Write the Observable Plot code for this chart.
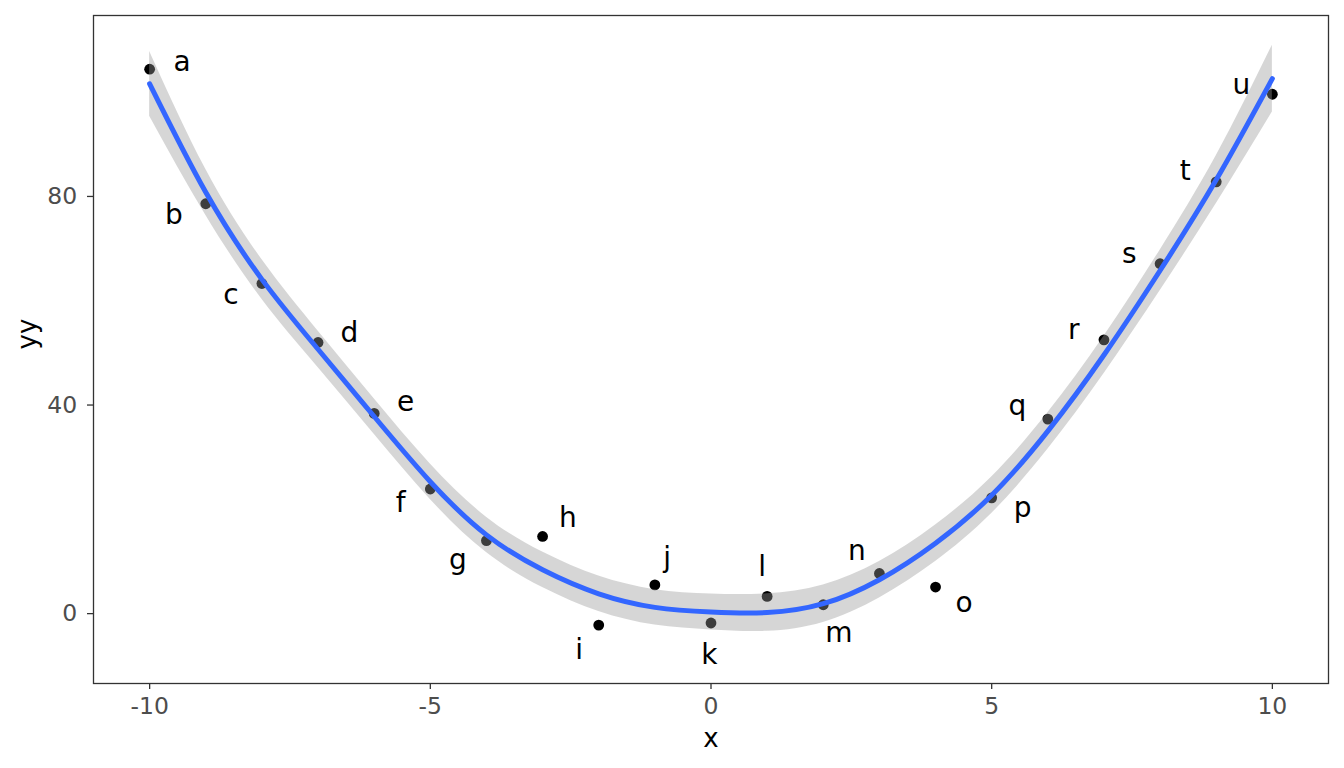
<!DOCTYPE html>
<html>
<head>
<meta charset="utf-8">
<script src="https://cdn.jsdelivr.net/npm/d3@7"></script>
<script src="https://cdn.jsdelivr.net/npm/@observablehq/plot@0.6"></script>
<style>
  body { margin: 0; background: white; }
  #chart { width: 1344px; height: 768px; }
</style>
</head>
<body>
<div id="chart"></div>
<script>
// puntos
let labels = ['a', 'b', 'c', 'd', 'e', 'f', 'g', 'h', 'i', 'j', 'k', 'l', 'm', 'n', 'o', 'p', 'q', 'r', 's', 't', 'u'];
let xs = [-10, -9, -8, -7, -6, -5, -4, -3, -2, -1, 0, 1, 2, 3, 4, 5, 6, 7, 8, 9, 10];
let yy = [104.4, 78.6, 63.3, 52.0, 38.4, 23.9, 14.0, 14.8, -2.2, 5.5, -1.8, 3.3, 1.7, 7.7, 5.1, 22.2, 37.3, 52.5, 67.1, 82.8, 99.6];

// donde quedaron las etiquetas (linea base, en unidades de los datos)
let labelX = [-9.42, -9.57, -8.55, -6.44, -5.44, -5.53, -4.51, -2.55, -2.35, -0.78, -0.03, 0.91, 2.28, 2.60, 4.51, 5.55, 5.46, 6.46, 7.45, 8.45, 9.45];
let labelY = [104.0, 74.8, 59.4, 52.0, 38.8, 19.4, 8.6, 16.6, -8.7, 8.9, -9.7, 7.3, -5.5, 10.2, 0.25, 18.5, 38.0, 52.7, 67.2, 83.1, 99.7];

// curva loess y banda de confianza
let fit = [101.6, 80.8, 64.1, 50.7, 37.8, 25.3, 15.1, 8.4, 3.8, 1.2, 0.3, 0.2, 1.9, 6.5, 13.5, 22.7, 35.0, 49.6, 65.8, 83.2, 102.6];
let fitLow = [95.4, 76.4, 60.3, 47.2, 34.4, 21.9, 11.7, 5.0, 0.4, -2.2, -3.15, -3.4, -1.7, 3.0, 10.0, 19.2, 31.5, 46.0, 61.9, 78.6, 96.2];
let fitHigh = [107.8, 85.2, 67.9, 54.2, 41.2, 28.7, 18.5, 11.8, 7.2, 4.6, 3.75, 3.8, 5.5, 10.0, 17.0, 26.2, 38.5, 53.2, 69.7, 87.8, 109.0];

let xTicks = [-10, -5, 0, 5, 10];
let yTicks = [0, 40, 80];

const points = xs.map((x, i) => ({ x: x, y: yy[i], label: labels[i], lx: labelX[i], ly: labelY[i] }));
const smooth = xs.map((x, i) => ({ x: x, fit: fit[i], lo: fitLow[i], hi: fitHigh[i] }));

let chart = Plot.plot({
  width: 1344,
  height: 768,
  marginLeft: 93,
  marginRight: 16,
  marginTop: 15,
  marginBottom: 85,
  x: { domain: [-11, 11] },
  y: { domain: [-13.4, 114.7] },
  style: {
    fontFamily: "DejaVu Sans",
    background: "white",
    color: "black",
  },
  marks: [
    Plot.dot(points, { x: "x", y: "y", r: 5.4, fill: "black", stroke: null }),
    Plot.areaY(smooth, { x: "x", y1: "lo", y2: "hi", fill: "#999999", fillOpacity: 0.4, curve: "natural" }),
    Plot.line(smooth, { x: "x", y: "fit", stroke: "#3366FF", strokeWidth: 5, curve: "natural" }),
    Plot.text(points, { x: "lx", y: "ly", text: "label", fontSize: 28, lineAnchor: "bottom", fill: "black" }),
    Plot.frame({ stroke: "#333333", strokeWidth: 1.3 }),
    Plot.axisX({
      ticks: xTicks,
      tickFormat: d => String(d),
      tickSize: 6,
      tickPadding: 7.6,
      fontSize: 23.5,
      stroke: "#333333",
      strokeWidth: 1.3,
      fill: "#4D4D4D",
      label: null,
    }),
    Plot.axisY({
      ticks: yTicks,
      tickFormat: d => String(d),
      tickSize: 6,
      tickPadding: 10.3,
      fontSize: 23.5,
      stroke: "#333333",
      strokeWidth: 1.3,
      fill: "#4D4D4D",
      label: null,
    }),
    Plot.text(["x"], { frameAnchor: "bottom", dy: 63.7, lineAnchor: "bottom", fontSize: 26, fill: "black" }),
    Plot.text(["yy"], { frameAnchor: "left", dx: -58, rotate: -90, lineAnchor: "bottom", fontSize: 26, fill: "black" }),
  ],
});

d3.select("#chart").append(() => chart);
</script>
</body>
</html>
